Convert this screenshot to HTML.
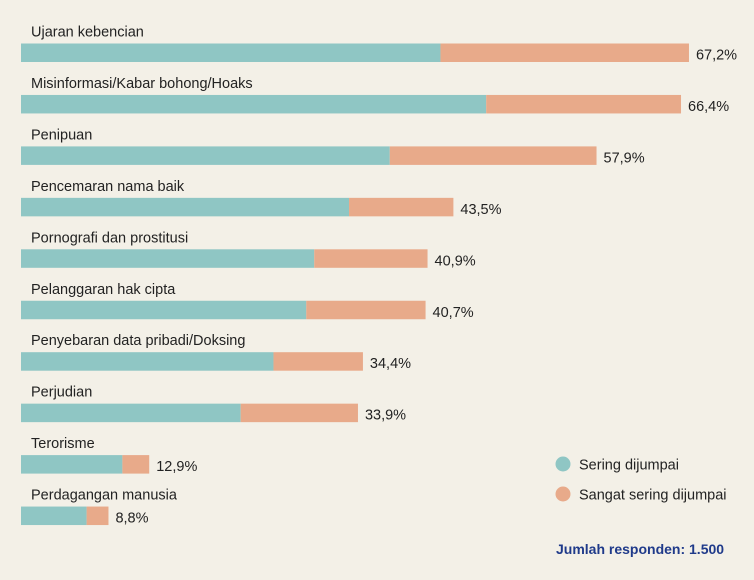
<!DOCTYPE html>
<html><head><meta charset="utf-8"><style>
html,body{margin:0;padding:0;background:#f3f0e7;}
svg{display:block;font-family:"Liberation Sans",sans-serif;}
</style></head><body>
<svg id="chart" width="754" height="580">
<rect width="754" height="580" fill="#f3f0e7"/>
<g id="bars"></g>
<g>
<circle cx="563" cy="464" r="7.5" fill="#8fc6c4"/>
<text x="579" y="469.5" font-size="14.5" fill="#222">Sering dijumpai</text>
<circle cx="563" cy="494" r="7.5" fill="#e8aa8a"/>
<text x="579" y="499.5" font-size="14.5" fill="#222">Sangat sering dijumpai</text>
</g>
<text x="556" y="554" font-size="14" font-weight="bold" fill="#1f3a8a">Jumlah responden: 1.500</text>
</svg>
<script>
const categories=["Ujaran kebencian","Misinformasi/Kabar bohong/Hoaks","Penipuan","Pencemaran nama baik","Pornografi dan prostitusi","Pelanggaran hak cipta","Penyebaran data pribadi/Doksing","Perjudian","Terorisme","Perdagangan manusia"];
const sering=[42.2,46.8,37.1,33.0,29.5,28.7,25.4,22.1,10.2,6.6];
const totals=[67.2,66.4,57.9,43.5,40.9,40.7,34.4,33.9,12.9,8.8];
const totalLabels=["67,2%","66,4%","57,9%","43,5%","40,9%","40,7%","34,4%","33,9%","12,9%","8,8%"];
const x0=21, pxPer=9.94, rowTop=43.5, rowStep=51.45, barH=18.5;
const xs=v=>x0+v*pxPer;
const ys=i=>rowTop+i*rowStep;
const NS="http://www.w3.org/2000/svg";
const g=document.getElementById('bars');
function mk(tag,attrs){const e=document.createElementNS(NS,tag);for(const k in attrs)e.setAttribute(k,attrs[k]);g.appendChild(e);return e;}
categories.forEach((c,i)=>{
  const y=ys(i);
  const lab=mk('text',{x:31,y:y-7,'font-size':14.5,fill:'#222'});
  lab.textContent=c;
  
  
  const b1=mk('rect',{x:x0,y:y,width:xs(sering[i])-x0,height:barH,fill:'#8fc6c4'});
  
  
  const b2=mk('rect',{x:xs(sering[i]),y:y,width:xs(totals[i])-xs(sering[i]),height:barH,fill:'#e8aa8a'});
  
  
  const v=mk('text',{x:xs(totals[i])+7,y:y+16,'font-size':14.5,fill:'#222'});
  v.textContent=totalLabels[i];
  
  
});
</script>
</body></html>
